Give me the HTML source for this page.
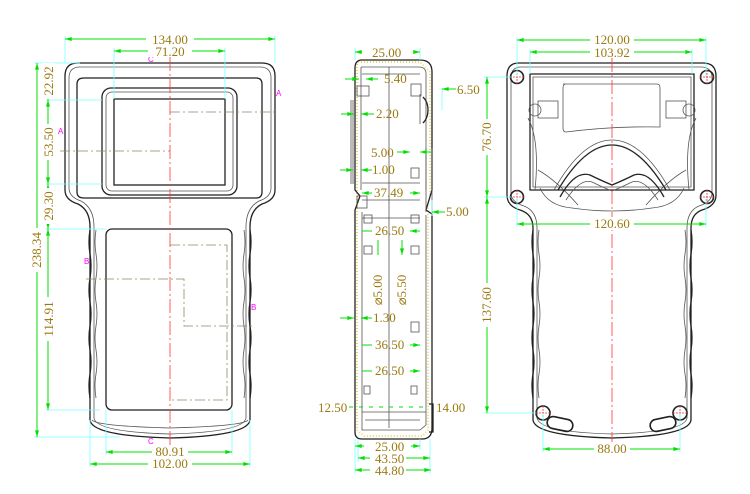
<!DOCTYPE html>
<html><head><meta charset="utf-8"><style>
html,body{margin:0;padding:0;background:#fff}
svg{display:block}
text{font-family:"Liberation Serif",serif;font-size:13px;fill:#9a7a10}
.o{fill:none;stroke:#222;stroke-width:1.3}
.t{fill:none;stroke:#555;stroke-width:0.8}
.d{stroke:#00e000;stroke-width:1;fill:none}
.e{stroke:#7ff;stroke-width:0.8;fill:none}
.c{stroke:#f33;stroke-width:0.8;stroke-dasharray:14 3 2 3;fill:none}
.s{stroke:#886;stroke-width:0.8;stroke-dasharray:10 3 2 3;fill:none}
.h{fill:none;stroke:#e6da70;stroke-width:2;stroke-dasharray:1 2}
.m{fill:#f0f;font-family:"Liberation Sans",sans-serif;font-size:8px}
</style></head><body>
<svg width="750" height="494" viewBox="0 0 750 494" xmlns="http://www.w3.org/2000/svg">
<defs>
<marker id="a" viewBox="0 0 10 6" refX="10" refY="3" markerWidth="8" markerHeight="4" orient="auto-start-reverse"><path d="M0 0L10 3L0 6z" fill="#00e000"/></marker>
</defs>

<!-- ================= FRONT VIEW ================= -->
<g>
<path class="o" d="M78 63 L262 63 Q275 63 275 76 L275 190 Q275 200 262 204 Q250 210 250 227 L250 420 Q248 436 170 438 Q92 436 90 420 L90 227 Q90 210 78 204 Q65 200 65 190 L65 76 Q65 63 78 63 Z"/>
<path class="t" d="M80 67 L260 67 Q271 67 271 78 L271 188 Q271 197 259 201 Q246 208 246 227 L246 418 Q244 432 170 434 Q96 432 94 418 L94 227 Q94 208 81 201 Q69 197 69 188 L69 78 Q69 67 80 67 Z"/>
<path class="o" d="M84 78 L256 78 Q262 78 262 84 L262 192 Q262 198 256 198 L84 198 Q77 198 77 192 L77 84 Q77 78 84 78 Z"/>
<rect class="o" x="102" y="88" width="135" height="107" rx="9"/>
<rect class="t" x="106" y="92" width="127" height="99" rx="6"/>
<rect class="o" x="114" y="99" width="111" height="86"/>
<rect class="o" x="106" y="229" width="126" height="181" rx="6"/>
<path class="t" d="M92 420 Q96 426 170 428 Q244 426 248 420"/>
<path class="o" d="M90 230 Q88 242 90 254 T90 278 T90 302 T90 326 T90 350 T90 374 T90 398"/>
<path class="t" d="M96 230 Q94 242 96 254 T96 278 T96 302 T96 326 T96 350 T96 374 T96 398"/>
<path class="o" d="M250 230 Q252 242 250 254 T250 278 T250 302 T250 326 T250 350 T250 374 T250 398"/>
<path class="t" d="M244 230 Q246 242 244 254 T244 278 T244 302 T244 326 T244 350 T244 374 T244 398"/>
<path class="s" d="M170 112 L278 112"/>
<path class="s" d="M60 151 L170 151"/>
<path class="s" d="M170 245 L227 245 L227 400 L170 400"/>
<path class="s" d="M86 279 L184 279 L184 326 L252 326"/>
<path class="c" d="M170 57 L170 446"/>
<text class="m" x="148" y="62">C</text><text class="m" x="148" y="444">C</text>
<text class="m" x="276" y="96">A</text><text class="m" x="58" y="134">A</text>
<text class="m" x="84" y="264">B</text><text class="m" x="251" y="310">B</text>
<path class="e" d="M65 36 L65 63 M275 36 L275 63 M114 48 L114 99 M225 48 L225 99"/>
<path class="d" marker-start="url(#a)" marker-end="url(#a)" d="M65 39 L275 39"/>
<path class="d" marker-start="url(#a)" marker-end="url(#a)" d="M114 51 L225 51"/>
<rect x="146" y="32" width="48" height="14" fill="#fff"/><text x="170" y="44" text-anchor="middle">134.00</text>
<rect x="148" y="45" width="44" height="12" fill="#fff"/><text x="170" y="56" text-anchor="middle">71.20</text>
<path class="e" d="M34 63 L80 63 M46 100 L102 100 M46 184 L102 184 M46 229 L106 229 M46 410 L100 410 M34 437 L120 437"/>
<path class="d" marker-start="url(#a)" marker-end="url(#a)" d="M48 63 L48 100"/>
<path class="d" marker-start="url(#a)" marker-end="url(#a)" d="M48 100 L48 184"/>
<path class="d" marker-start="url(#a)" marker-end="url(#a)" d="M48 184 L48 229"/>
<path class="d" marker-start="url(#a)" marker-end="url(#a)" d="M48 229 L48 410"/>
<path class="d" marker-start="url(#a)" marker-end="url(#a)" d="M37 63 L37 437"/>
<g transform="translate(53 81) rotate(-90)"><rect x="-18" y="-11" width="36" height="13" fill="#fff"/><text text-anchor="middle">22.92</text></g>
<g transform="translate(53 142) rotate(-90)"><rect x="-18" y="-11" width="36" height="13" fill="#fff"/><text text-anchor="middle">53.50</text></g>
<g transform="translate(53 206) rotate(-90)"><rect x="-18" y="-11" width="36" height="13" fill="#fff"/><text text-anchor="middle">29.30</text></g>
<g transform="translate(53 319) rotate(-90)"><rect x="-22" y="-11" width="44" height="13" fill="#fff"/><text text-anchor="middle">114.91</text></g>
<g transform="translate(41 250) rotate(-90)"><rect x="-22" y="-11" width="44" height="13" fill="#fff"/><text text-anchor="middle">238.34</text></g>
<path class="e" d="M106 410 L106 455 M232 410 L232 455 M90 420 L90 467 M250 420 L250 467"/>
<path class="d" marker-start="url(#a)" marker-end="url(#a)" d="M106 452 L232 452"/>
<path class="d" marker-start="url(#a)" marker-end="url(#a)" d="M90 464 L250 464"/>
<rect x="152" y="445" width="36" height="12" fill="#fff"/><text x="170" y="456" text-anchor="middle">80.91</text>
<rect x="148" y="457" width="44" height="12" fill="#fff"/><text x="170" y="468" text-anchor="middle">102.00</text>
</g>

<!-- ================= SIDE VIEW ================= -->
<g>
<path class="h" d="M358 62 L420 62 L430 72 L430 195 M357 64 L357 430 L364 436 L422 436 L428 430 L428 205"/>
<path class="o" d="M355 68 Q355 60 362 60 L420 60 Q432 60 432 72 L432 190 L426 210 L432 214 L432 428 Q432 439 422 439 L362 439 Q355 439 355 432 L355 210 L360 196 L355 190 Z"/>
<path class="t" d="M361 67 L419 67 Q426 67 426 74 L426 190 M361 67 L361 190 M362 212 L362 430 L420 430 L426 425 L426 215"/>
<path class="t" d="M389 67 L389 428"/>
<path class="t" d="M362 74 L420 74 M362 183 L420 183 M362 200 L420 200 M362 218 L420 218 M362 412 L426 412 M365 420 L420 420"/>
<rect class="t" x="357" y="86" width="12" height="10"/><rect class="t" x="411" y="84" width="10" height="12"/>
<rect class="t" x="411" y="168" width="8" height="10"/><rect class="t" x="357" y="196" width="10" height="12"/>
<rect class="t" x="364" y="215" width="8" height="8"/><rect class="t" x="411" y="215" width="8" height="8"/>
<rect class="t" x="364" y="246" width="8" height="8"/><rect class="t" x="411" y="246" width="8" height="8"/>
<rect class="t" x="411" y="322" width="8" height="10"/>
<rect class="t" x="364" y="386" width="6" height="8"/><rect class="t" x="411" y="386" width="6" height="8"/>
<path class="t" d="M353 100 L353 184 M351 100 L351 184"/>
<path class="o" d="M423 97 A12 16 0 0 1 423 123"/>
<path class="t" d="M420 94 L420 124 M426 148 L426 212 M432 148 L432 212"/>
<path class="o" d="M429 404 L433 404 L433 432 L429 432"/>
<path class="e" d="M355 48 L355 60 M420 48 L420 60"/>
<path class="d" marker-start="url(#a)" marker-end="url(#a)" d="M355 52 L362 52 M413 52 L420 52"/>
<text x="372" y="57">25.00</text>
<path class="d" marker-end="url(#a)" d="M345 79 L359 79"/><path class="d" marker-end="url(#a)" d="M378 79 L366 79"/><text x="384" y="83">5.40</text>
<path class="d" marker-end="url(#a)" d="M341 114 L354 114"/><path class="d" marker-end="url(#a)" d="M374 114 L361 114"/><text x="376" y="118">2.20</text>
<path class="d" marker-end="url(#a)" d="M397 152 L410 152"/><path class="d" marker-end="url(#a)" d="M432 152 L420 152"/><text x="371" y="157">5.00</text>
<path class="d" marker-end="url(#a)" d="M340 170 L353 170"/><path class="d" marker-end="url(#a)" d="M372 170 L361 170"/><text x="372" y="174">1.00</text>
<path class="d" marker-end="url(#a)" d="M372 193 L362 193"/><path class="d" marker-end="url(#a)" d="M410 193 L420 193"/><text x="374" y="197">37.49</text>
<path class="e" d="M432 200 L432 216"/>
<path class="d" marker-end="url(#a)" d="M445 212 L432 212"/><text x="446" y="216">5.00</text>
<path class="e" d="M442 88 L442 110"/>
<path class="d" marker-end="url(#a)" d="M456 89 L442 89"/><text x="457" y="94">6.50</text>
<path class="d" marker-end="url(#a)" d="M362 231 L372 231 M420 231 L410 231"/><text x="375" y="235">26.50</text>
<path class="d" marker-end="url(#a)" d="M378 240 L378 255 M402 240 L402 255"/>
<g transform="translate(382 290) rotate(-90)"><text text-anchor="middle">⌀5.00</text></g>
<g transform="translate(406 290) rotate(-90)"><text text-anchor="middle">⌀5.50</text></g>
<path class="d" marker-end="url(#a)" d="M340 318 L354 318"/><path class="d" marker-end="url(#a)" d="M372 318 L361 318"/><text x="373" y="322">1.30</text>
<path class="d" marker-end="url(#a)" d="M372 345 L362 345 M410 345 L420 345"/><text x="375" y="349">36.50</text>
<path class="d" marker-end="url(#a)" d="M372 371 L362 371 M410 371 L420 371"/><text x="375" y="375">26.50</text>
<path class="d" stroke-dasharray="4 6" d="M349 407 L428 407"/>
<text x="318" y="412">12.50</text><text x="436" y="412">14.00</text>
<path class="e" d="M355 439 L355 474 M420 439 L420 450 M358 439 L358 462 M430 439 L430 474"/>
<path class="d" marker-start="url(#a)" marker-end="url(#a)" d="M355 446 L364 446 M411 446 L420 446"/><text x="375" y="451">25.00</text>
<path class="d" marker-start="url(#a)" marker-end="url(#a)" d="M358 458 L430 458"/><rect x="370" y="452" width="36" height="12" fill="#fff"/><text x="375" y="463">43.50</text>
<path class="d" marker-start="url(#a)" marker-end="url(#a)" d="M355 470 L431 470"/><rect x="370" y="464" width="36" height="12" fill="#fff"/><text x="375" y="475">44.80</text>
</g>

<!-- ================= BACK VIEW ================= -->
<g>
<path class="o" d="M519 63 L703 63 Q716 63 716 76 L716 195 Q716 206 702 210 Q691 214 691 228 L691 420 Q689 436 612 438 Q535 436 533 420 L533 228 Q533 214 520 210 Q507 206 507 195 L507 76 Q507 63 519 63 Z"/>
<path class="t" d="M521 67 L701 67 Q712 67 712 78 L712 193 Q712 202 699 206 Q687 211 687 228 L687 418 Q685 432 612 434 Q539 432 537 418 L537 228 Q537 211 524 206 Q511 202 511 193 L511 78 Q511 67 521 67 Z"/>
<path class="o" d="M530 74 L694 74 L694 190 L530 190 Z" stroke-width="0.9"/>
<path class="t" d="M533 77 L691 77 L691 187 L533 187 Z"/>
<path class="t" d="M563 84 L657 84 Q660 84 660 88 L660 127 Q612 126 566 132 Q563 132 563 128 L563 88 Q563 84 566 84 Z"/>
<rect class="t" x="538" y="101" width="20" height="17"/><rect class="t" x="666" y="101" width="20" height="17"/>
<circle class="t" cx="535" cy="110" r="6"/><circle class="t" cx="689" cy="110" r="6"/>
<path class="t" d="M528 118 Q540 140 535 190 M696 118 Q684 140 689 190"/>
<path class="o" d="M558 190 Q585 145 612 145 Q639 145 666 190" stroke-width="1"/>
<path class="t" d="M554 190 Q582 140 612 140 Q642 140 670 190"/>
<path class="t" d="M538 170 Q556 180 578 205 M686 170 Q668 180 646 205"/>
<path class="o" d="M560 197 Q575 170 590 175 Q600 180 612 185 Q624 180 634 175 Q649 170 664 197" stroke-width="1"/>
<path class="t" d="M566 200 Q580 178 592 182 Q602 187 612 191 Q622 187 632 182 Q644 178 658 200"/>
<path class="t" d="M540 188 Q548 206 572 208 Q612 214 652 208 Q676 206 684 188"/>
<path class="o" d="M533 230 Q531 242 533 254 T533 278 T533 302 T533 326 T533 350 T533 374 T533 398"/>
<path class="t" d="M539 230 Q537 242 539 254 T539 278 T539 302 T539 326 T539 350 T539 374 T539 398"/>
<path class="o" d="M691 230 Q693 242 691 254 T691 278 T691 302 T691 326 T691 350 T691 374 T691 398"/>
<path class="t" d="M685 230 Q687 242 685 254 T685 278 T685 302 T685 326 T685 350 T685 374 T685 398"/>
<g fill="none" stroke="#222" stroke-width="1.6">
<circle cx="517" cy="77" r="6.5"/><circle cx="707" cy="77" r="6.5"/>
<circle cx="517" cy="197" r="6.5"/><circle cx="707" cy="197" r="6.5"/>
<circle cx="543" cy="413" r="7"/><circle cx="680" cy="413" r="7"/>
<rect x="547" y="418" width="26" height="12" rx="6" transform="rotate(12 560 424)"/>
<rect x="650" y="418" width="26" height="12" rx="6" transform="rotate(-12 663 424)"/>
</g>
<g stroke="#f33" stroke-width="0.8" stroke-dasharray="2 1">
<path d="M510 77h14M517 70v14M700 77h14M707 70v14M510 197h14M517 190v14M700 197h14M707 190v14M536 413h14M543 406v14M673 413h14M680 406v14"/>
</g>
<path class="c" d="M612 58 L612 445"/>
<path class="e" d="M517 37 L517 77 M706 37 L706 77 M530 49 L530 74 M692 49 L692 74"/>
<path class="d" marker-start="url(#a)" marker-end="url(#a)" d="M517 40 L706 40"/>
<path class="d" marker-start="url(#a)" marker-end="url(#a)" d="M530 52 L692 52"/>
<rect x="590" y="33" width="44" height="13" fill="#fff"/><text x="612" y="44" text-anchor="middle">120.00</text>
<rect x="590" y="46" width="44" height="12" fill="#fff"/><text x="612" y="57" text-anchor="middle">103.92</text>
<path class="e" d="M517 197 L517 227 M706 197 L706 227"/>
<path class="d" marker-start="url(#a)" marker-end="url(#a)" d="M517 224 L706 224"/>
<rect x="590" y="217" width="44" height="13" fill="#fff"/><text x="612" y="228" text-anchor="middle">120.60</text>
<path class="e" d="M543 413 L543 452 M680 413 L680 452"/>
<path class="d" marker-start="url(#a)" marker-end="url(#a)" d="M543 449 L680 449"/>
<rect x="594" y="442" width="36" height="13" fill="#fff"/><text x="612" y="453" text-anchor="middle">88.00</text>
<path class="e" d="M484 77 L511 77 M484 197 L511 197 M484 413 L536 413"/>
<path class="d" marker-start="url(#a)" marker-end="url(#a)" d="M487 77 L487 197"/>
<path class="d" marker-start="url(#a)" marker-end="url(#a)" d="M487 197 L487 413"/>
<g transform="translate(491 137) rotate(-90)"><rect x="-18" y="-11" width="36" height="13" fill="#fff"/><text text-anchor="middle">76.70</text></g>
<g transform="translate(491 305) rotate(-90)"><rect x="-22" y="-11" width="44" height="13" fill="#fff"/><text text-anchor="middle">137.60</text></g>
</g>
</svg>
</body></html>
